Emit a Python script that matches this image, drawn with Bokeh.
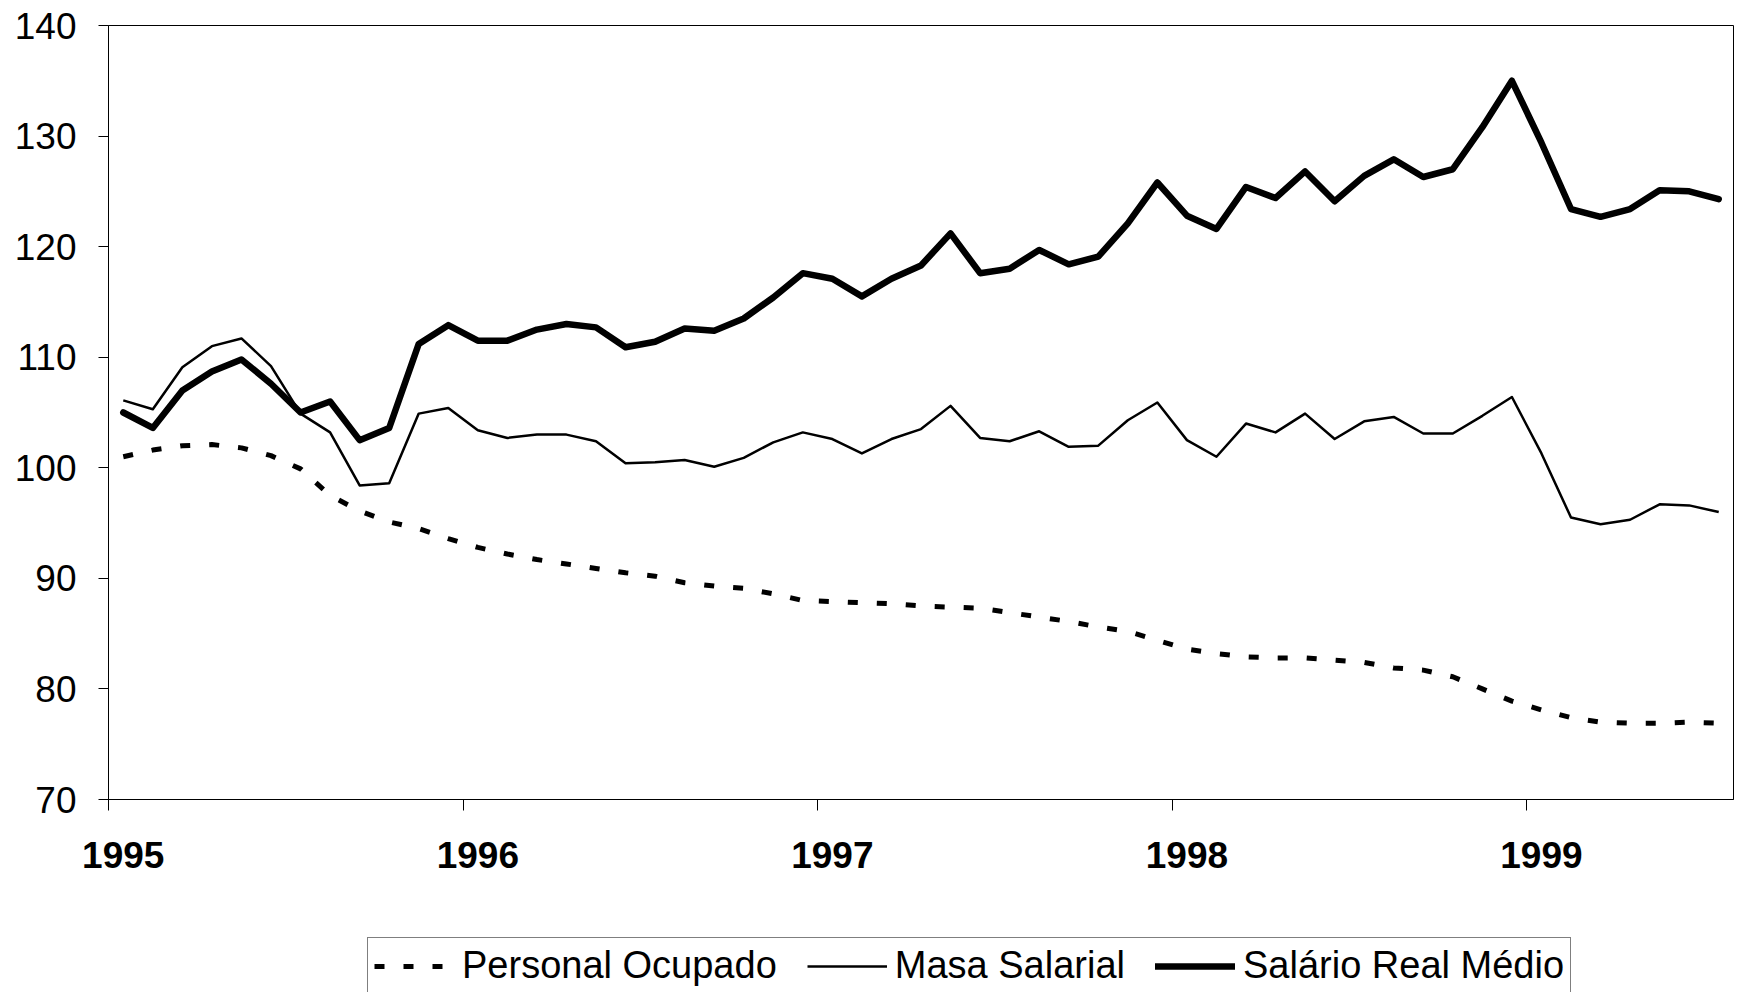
from bokeh.plotting import figure
from bokeh.models import FixedTicker, Range1d, Legend, LegendItem
from bokeh.layouts import column
from bokeh.embed import file_html
from bokeh.resources import INLINE

# Monthly index: 0 = Jan 1995 ... 54 = Jul 1999
MONTHS = list(range(55))
YEAR_LABELS = ["1995", "1996", "1997", "1998", "1999"]
YEAR_START = [0, 12, 24, 36, 48]
Y_TICKS = [70, 80, 90, 100, 110, 120, 130, 140]
SERIES_NAMES = ["Personal Ocupado", "Masa Salarial", "Salário Real Médio"]

personal_ocupado = [
    101.0, 101.6, 102.0, 102.1, 101.8, 101.1, 99.9, 97.5, 96.1, 95.1,
    94.5, 93.6, 92.8, 92.2, 91.7, 91.3, 90.9, 90.5, 90.2, 89.6,
    89.3, 89.1, 88.6, 88.0, 87.9, 87.8, 87.7, 87.5, 87.4, 87.3,
    86.9, 86.5, 86.1, 85.6, 85.2, 84.4, 83.6, 83.2, 82.9, 82.8,
    82.8, 82.6, 82.4, 81.9, 81.7, 81.1, 80.0, 78.9, 78.1, 77.4,
    77.0, 76.9, 76.9, 77.0, 76.9,
]
masa_salarial = [
    106.1, 105.3, 109.1, 111.0, 111.7, 109.2, 104.9, 103.2, 98.4, 98.6,
    104.9, 105.4, 103.4, 102.7, 103.0, 103.0, 102.4, 100.4, 100.5, 100.7,
    100.1, 100.9, 102.3, 103.2, 102.6, 101.3, 102.6, 103.5, 105.6, 102.7,
    102.4, 103.3, 101.9, 102.0, 104.3, 105.9, 102.5, 101.0, 104.0, 103.2,
    104.9, 102.6, 104.2, 104.6, 103.1, 103.1, 104.7, 106.4, 101.3, 95.5,
    94.9, 95.3, 96.7, 96.6, 96.0,
]
salario_real_medio = [
    105.0, 103.6, 107.0, 108.7, 109.8, 107.6, 105.0, 106.0, 102.5, 103.6,
    111.2, 112.9, 111.5, 111.5, 112.5, 113.0, 112.7, 110.9, 111.4, 112.6,
    112.4, 113.5, 115.4, 117.6, 117.1, 115.5, 117.1, 118.3, 121.2, 117.6,
    118.0, 119.7, 118.4, 119.1, 122.1, 125.8, 122.8, 121.6, 125.4, 124.4,
    126.8, 124.1, 126.4, 127.9, 126.3, 127.0, 130.8, 135.0, 129.4, 123.4,
    122.7, 123.4, 125.1, 125.0, 124.3,
]

FONT = "Liberation Sans"
STYLES = [
    dict(line_color="black", line_width=5, line_dash="10 19"),
    dict(line_color="black", line_width=2.5, line_join="round"),
    dict(line_color="black", line_width=6.5, line_join="round", line_cap="round"),
]

p = figure(
    width=1735, height=930, title=None,
    output_backend="svg", toolbar_location=None,
    x_range=Range1d(-0.5, 54.5), y_range=Range1d(70, 140),
    min_border_left=108, min_border_right=2,
    min_border_top=25, min_border_bottom=131,
)
p.xgrid.visible = False
p.ygrid.visible = False
p.outline_line_color = "black"
p.outline_line_width = 1
p.background_fill_color = "white"
p.border_fill_color = "white"

# Y axis
yax = p.yaxis[0]
yax.ticker = FixedTicker(ticks=Y_TICKS)
yax.major_label_text_font = FONT
yax.major_label_text_font_size = "37px"
yax.major_label_text_color = "black"
yax.major_tick_out = 10
yax.major_tick_in = 0
yax.minor_tick_line_color = None
yax.major_label_standoff = 22
yax.axis_line_color = "black"
yax.major_tick_line_color = "black"

# X axis: year labels centred on January, tick marks at year boundaries
xax = p.xaxis[0]
xax.ticker = FixedTicker(ticks=YEAR_START, minor_ticks=[s - 0.5 for s in YEAR_START])
xax.major_label_overrides = {s: lab for s, lab in zip(YEAR_START, YEAR_LABELS)}
xax.major_label_text_font = FONT
xax.major_label_text_font_size = "37px"
xax.major_label_text_font_style = "bold"
xax.major_label_text_color = "black"
xax.major_tick_line_color = None
xax.major_tick_out = 11
xax.major_tick_in = 0
xax.minor_tick_line_color = "black"
xax.minor_tick_out = 11
xax.minor_tick_in = 0
xax.major_label_standoff = 31
xax.axis_line_color = "black"

for ys, st in zip([personal_ocupado, masa_salarial, salario_real_medio], STYLES):
    p.line(MONTHS, ys, **st)

# Legend strip (separate figure so the box is not clipped by the plot frame)
lg = figure(
    width=1735, height=62, title=None,
    output_backend="svg", toolbar_location=None,
    x_range=Range1d(0, 1), y_range=Range1d(0, 1),
    x_axis_type=None, y_axis_type=None,
    min_border_left=0, min_border_right=0, min_border_top=0, min_border_bottom=0,
)
lg.xgrid.visible = False
lg.ygrid.visible = False
lg.outline_line_color = None
lg.background_fill_color = "white"
lg.border_fill_color = "white"

items = []
for name, st in zip(SERIES_NAMES, STYLES):
    # proxy renderers kept outside the visible range; only used for legend swatches
    r = lg.line(x=[5, 6], y=[5, 6], **st)
    items.append(LegendItem(label=name, renderers=[r]))

legend = Legend(
    items=items,
    orientation="horizontal",
    location=(259, -2),
    glyph_width=80, glyph_height=40, label_height=40,
    label_standoff=8, spacing=30, padding=6,
    label_text_font=FONT, label_text_font_size="38px", label_text_color="black",
    border_line_color="black", border_line_width=1,
    background_fill_color="white", background_fill_alpha=1.0,
)
lg.add_layout(legend, "center")

layout = column(p, lg, spacing=0)
open("out.html", "w").write(file_html(layout, INLINE))
